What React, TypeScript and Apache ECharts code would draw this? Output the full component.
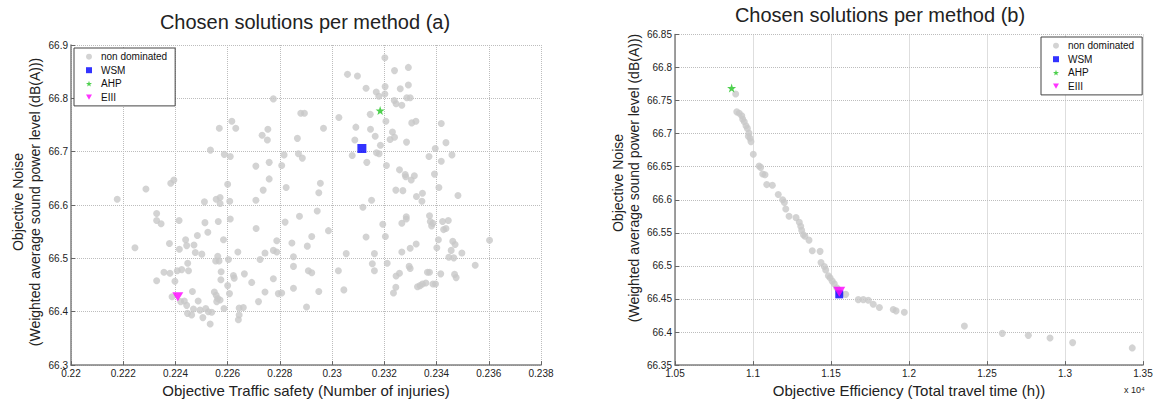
import React, { useEffect, useRef } from "react";
import * as echarts from "echarts";

const FONT = "'Liberation Sans', Arial, Helvetica, sans-serif";

// ---- (a) Traffic safety vs Noise ----
const leftNonDominated: [number, number][] = [
  [0.22177, 66.611], [0.22287, 66.630], [0.22328, 66.584], [0.22382, 66.641], [0.22394, 66.647],
  [0.22534, 66.703], [0.22511, 66.606], [0.22556, 66.611], [0.22571, 66.614], [0.22571, 66.603],
  [0.22568, 66.744], [0.22616, 66.757], [0.22631, 66.744], [0.22587, 66.695], [0.22610, 66.691],
  [0.22600, 66.639], [0.22608, 66.607], [0.22708, 66.609], [0.22708, 66.673], [0.22736, 66.628],
  [0.22732, 66.731], [0.22752, 66.722], [0.22754, 66.742], [0.22759, 66.680], [0.22759, 66.649],
  [0.22775, 66.799], [0.22807, 66.674], [0.22816, 66.694], [0.22824, 66.633], [0.22867, 66.725],
  [0.22871, 66.696],
  [0.23202, 66.876], [0.23059, 66.845], [0.23097, 66.842], [0.23239, 66.852], [0.23292, 66.858],
  [0.23130, 66.819], [0.23169, 66.812], [0.23179, 66.804], [0.23203, 66.822], [0.23202, 66.808],
  [0.23261, 66.818], [0.23292, 66.825], [0.23238, 66.796], [0.23245, 66.790], [0.23267, 66.787],
  [0.23286, 66.801], [0.23299, 66.801], [0.22880, 66.772], [0.22894, 66.772], [0.23026, 66.764],
  [0.23146, 66.770], [0.22967, 66.744], [0.23091, 66.746], [0.23147, 66.742], [0.23206, 66.757],
  [0.23305, 66.754], [0.23321, 66.757], [0.23418, 66.753], [0.23087, 66.722], [0.23165, 66.729],
  [0.23231, 66.737], [0.23222, 66.723], [0.23239, 66.727], [0.23285, 66.718], [0.23436, 66.717],
  [0.23185, 66.712], [0.23077, 66.693], [0.23133, 66.680], [0.23170, 66.698], [0.23180, 66.696],
  [0.22886, 66.688], [0.23395, 66.706], [0.23371, 66.691], [0.23459, 66.694], [0.23418, 66.682],
  [0.23208, 66.674], [0.23258, 66.666], [0.23280, 66.657], [0.23282, 66.653], [0.23303, 66.647],
  [0.23315, 66.655], [0.23392, 66.658], [0.22955, 66.641], [0.22949, 66.623], [0.23409, 66.633],
  [0.23244, 66.628], [0.23271, 66.627], [0.23346, 66.622], [0.23323, 66.616], [0.23344, 66.607],
  [0.23482, 66.618], [0.23151, 66.609], [0.23118, 66.596], [0.22943, 66.589], [0.22875, 66.579],
  [0.23373, 66.580], [0.23284, 66.578],
  [0.22986, 66.552], [0.22922, 66.541], [0.22846, 66.529], [0.22905, 66.523], [0.22852, 66.503],
  [0.22852, 66.485], [0.22909, 66.477], [0.22922, 66.473], [0.22949, 66.438], [0.22902, 66.409],
  [0.23024, 66.477], [0.23054, 66.509], [0.23045, 66.441], [0.23130, 66.540], [0.23162, 66.509],
  [0.23154, 66.490], [0.23162, 66.477], [0.23194, 66.564], [0.23204, 66.541], [0.23211, 66.491],
  [0.23267, 66.566], [0.23284, 66.574], [0.23267, 66.512], [0.23299, 66.519], [0.23322, 66.527],
  [0.23295, 66.485], [0.23299, 66.481], [0.23245, 66.467], [0.23258, 66.472], [0.23244, 66.446],
  [0.23235, 66.435], [0.23376, 66.569], [0.23381, 66.561], [0.23386, 66.566], [0.23423, 66.569],
  [0.23445, 66.571], [0.23427, 66.554], [0.23436, 66.556], [0.23407, 66.535], [0.23401, 66.520],
  [0.23462, 66.532], [0.23471, 66.526], [0.23456, 66.515], [0.23497, 66.510], [0.23447, 66.502],
  [0.23466, 66.501], [0.23365, 66.474], [0.23373, 66.474], [0.23416, 66.471], [0.23469, 66.470],
  [0.23475, 66.464], [0.23359, 66.454], [0.23346, 66.452], [0.23327, 66.447], [0.23337, 66.449],
  [0.23386, 66.452], [0.23396, 66.452], [0.23548, 66.487], [0.23603, 66.534],
  [0.22328, 66.571], [0.22345, 66.565], [0.22414, 66.571], [0.22245, 66.520], [0.22513, 66.567],
  [0.22524, 66.549], [0.22564, 66.569], [0.22610, 66.574], [0.22584, 66.535], [0.22709, 66.556],
  [0.22377, 66.528], [0.22415, 66.517], [0.22439, 66.535], [0.22443, 66.524], [0.22471, 66.525],
  [0.22484, 66.543], [0.22501, 66.508], [0.22476, 66.511], [0.22562, 66.504], [0.22567, 66.495],
  [0.22554, 66.495], [0.22603, 66.498], [0.22639, 66.512], [0.22743, 66.510], [0.22775, 66.515],
  [0.22788, 66.512], [0.22788, 66.533], [0.22820, 66.568], [0.22724, 66.498], [0.22447, 66.491],
  [0.22450, 66.477], [0.22356, 66.474], [0.22379, 66.472], [0.22407, 66.477], [0.22424, 66.479],
  [0.22398, 66.457], [0.22328, 66.458], [0.22575, 66.475], [0.22574, 66.460], [0.22622, 66.468],
  [0.22625, 66.463], [0.22664, 66.471], [0.22692, 66.455], [0.22775, 66.462], [0.22600, 66.449],
  [0.22607, 66.434], [0.22549, 66.437], [0.22556, 66.431], [0.22562, 66.425], [0.22571, 66.422],
  [0.22558, 66.419], [0.22465, 66.438], [0.22487, 66.420], [0.22434, 66.420], [0.22443, 66.412],
  [0.22387, 66.428], [0.22420, 66.419], [0.22446, 66.397], [0.22462, 66.394], [0.22469, 66.405],
  [0.22494, 66.403], [0.22516, 66.406], [0.22505, 66.389], [0.22526, 66.400], [0.22539, 66.399],
  [0.22533, 66.377], [0.22586, 66.406], [0.22644, 66.407], [0.22644, 66.394], [0.22641, 66.385],
  [0.22660, 66.408], [0.22718, 66.419], [0.22743, 66.437], [0.22794, 66.434], [0.22807, 66.435],
  [0.22852, 66.444],
];
const leftWSM: [number, number][] = [[0.23114, 66.706]];
const leftAHP: [number, number][] = [[0.23184, 66.777]];
const leftEIII: [number, number][] = [[0.22409, 66.428]];

// ---- (b) Efficiency (x 10^4 h) vs Noise ----
const rightNonDominated: [number, number][] = [
  [1.0889, 66.760], [1.0896, 66.733], [1.0912, 66.731], [1.0928, 66.727], [1.0934, 66.722],
  [1.0944, 66.718], [1.0955, 66.712], [1.0964, 66.708], [1.0974, 66.701], [1.0970, 66.696],
  [1.0981, 66.693], [1.0987, 66.688], [1.1002, 66.669], [1.1039, 66.651], [1.1049, 66.649],
  [1.1062, 66.639], [1.1077, 66.638], [1.1088, 66.623], [1.1124, 66.622], [1.1162, 66.608],
  [1.1190, 66.600], [1.1201, 66.596], [1.1210, 66.586], [1.1231, 66.575], [1.1276, 66.573],
  [1.1297, 66.566], [1.1306, 66.560], [1.1312, 66.554], [1.1323, 66.547], [1.1333, 66.545],
  [1.1359, 66.539], [1.1380, 66.523], [1.1430, 66.522], [1.1436, 66.505], [1.1457, 66.499],
  [1.1466, 66.494], [1.1483, 66.485], [1.1494, 66.482], [1.1508, 66.477], [1.1521, 66.473],
  [1.1537, 66.467], [1.1547, 66.464], [1.1553, 66.459], [1.1594, 66.457], [1.1675, 66.449],
  [1.1707, 66.449], [1.1739, 66.448], [1.1771, 66.442], [1.1810, 66.437], [1.1899, 66.434],
  [1.1917, 66.432], [1.1970, 66.430], [1.2355, 66.409], [1.2598, 66.398], [1.2765, 66.395],
  [1.2904, 66.391], [1.3049, 66.384], [1.3431, 66.376],
];
const rightWSM: [number, number][] = [[1.1553, 66.457]];
const rightAHP: [number, number][] = [[1.0863, 66.769]];
const rightEIII: [number, number][] = [[1.1553, 66.461]];

// axis ranges / tick steps
const leftX = { min: 0.22, max: 0.238, interval: 0.002 };
const leftY = { min: 66.3, max: 66.9, interval: 0.1 };
const rightX = { min: 1.05, max: 1.35, interval: 0.05 };
const rightY = { min: 66.35, max: 66.85, interval: 0.05 };

const legendNames = ["non dominated", "WSM", "AHP", "EIII"];
const titles = ["Chosen solutions per method (a)", "Chosen solutions per method (b)"];
const xNames = ["Objective Traffic safety (Number of injuries)", "Objective Efficiency (Total travel time (h))"];
const yNameLines = ["Objective Noise", "(Weighted average sound power level (dB(A)))"];

const GRAY = "#c8c8c8";
const BLUE = "#0000ff";
const GREEN = "#22c422";
const MAGENTA = "#ff00ff";
const STAR =
  "path://M0,-10 L2.35,-3.24 L9.51,-3.09 L3.8,1.24 L5.88,8.09 L0,4 L-5.88,8.09 L-3.8,1.24 L-9.51,-3.09 L-2.35,-3.24 Z";
const TRI_DOWN = "path://M0,0 L10,0 L5,8.66 Z";

function axisCommon(r: { min: number; max: number; interval: number }) {
  return {
    type: "value" as const,
    min: r.min,
    max: r.max,
    interval: r.interval,
    axisLine: { show: true, onZero: false, lineStyle: { color: "#808080", width: 1.5 } },
    axisTick: { show: true, inside: true, length: 4, lineStyle: { color: "#666" } },
    axisLabel: { color: "#222", fontSize: 10, fontFamily: FONT, margin: 3 },
    splitLine: { show: true, lineStyle: { color: "#bdbdbd", type: "dotted" as const, width: 1 } },
  };
}

function legendFor(left: number, top: number) {
  return {
    orient: "vertical" as const,
    left,
    top,
    data: [
      { name: legendNames[0], icon: "circle" },
      { name: legendNames[1], icon: "rect" },
      { name: legendNames[2], icon: STAR },
      { name: legendNames[3], icon: TRI_DOWN },
    ],
    itemWidth: 6,
    itemHeight: 6,
    itemGap: 1.5,
    padding: [2.7, 8, 2.7, 12],
    backgroundColor: "#fff",
    borderColor: "#444",
    borderWidth: 1,
    textStyle: { fontSize: 10, fontFamily: FONT, color: "#111", lineHeight: 12, padding: [0, 0, 0, 4] },
    selectedMode: false,
  };
}

function seriesFor(idx: number, nd: any, wsm: any, ahp: any, eiii: any, big: number, tri: number[]) {
  return [
    { name: "non dominated", type: "scatter", xAxisIndex: idx, yAxisIndex: idx, data: nd, symbol: "circle", symbolSize: 7, itemStyle: { color: GRAY }, z: 2, silent: true },
    { name: "WSM", type: "scatter", xAxisIndex: idx, yAxisIndex: idx, data: wsm, symbol: "rect", symbolSize: big, itemStyle: { color: BLUE }, z: 3, silent: true },
    { name: "AHP", type: "scatter", xAxisIndex: idx, yAxisIndex: idx, data: ahp, symbol: STAR, symbolSize: 9, itemStyle: { color: GREEN }, z: 4, silent: true },
    { name: "EIII", type: "scatter", xAxisIndex: idx, yAxisIndex: idx, data: eiii, symbol: TRI_DOWN, symbolSize: tri, itemStyle: { color: MAGENTA }, z: 5, silent: true },
  ];
}

function txt(x: number, y: number, text: string, size: number, rot = 0) {
  return {
    type: "text" as const,
    x,
    y,
    rotation: rot,
    silent: true,
    style: { text, fill: "#222", font: `${size}px ${FONT}`, align: "center", verticalAlign: "middle" },
  };
}

export default function App() {
  const ref = useRef<HTMLDivElement>(null);
  useEffect(() => {
    document.body.style.margin = "0";
    if (!ref.current) return;
    const chart = echarts.init(ref.current, undefined, { renderer: "svg" });
    const R = Math.PI / 2;
    chart.setOption({
      animation: false,
      backgroundColor: "#fff",
      textStyle: { fontFamily: FONT },
      grid: [
        { left: 71, top: 45, width: 470, height: 326 },
        { left: 675, top: 34.5, width: 468, height: 335.5 },
      ],
      xAxis: [
        { ...axisCommon(leftX), gridIndex: 0, name: xNames[0], nameLocation: "middle", nameGap: 15, nameTextStyle: { fontSize: 15, color: "#222", fontFamily: FONT } },
        { ...axisCommon(rightX), gridIndex: 1, name: xNames[1], nameLocation: "middle", nameGap: 15, nameTextStyle: { fontSize: 15, color: "#222", fontFamily: FONT } },
      ],
      yAxis: [
        { ...axisCommon(leftY), gridIndex: 0 },
        { ...axisCommon(rightY), gridIndex: 1 },
      ],
      legend: [legendFor(74, 48), legendFor(1041, 37)],
      series: [
        ...seriesFor(0, leftNonDominated, leftWSM, leftAHP, leftEIII, 9, [11, 9]),
        ...seriesFor(1, rightNonDominated, rightWSM, rightAHP, rightEIII, 8, [12, 10]),
      ],
      graphic: [
        txt(305, 22, titles[0], 20),
        txt(880, 15, titles[1], 20),
        txt(18, 202, yNameLines[0], 14, R),
        txt(35, 202, yNameLines[1], 14, R),
        txt(618, 183, yNameLines[0], 14, R),
        txt(634, 178, yNameLines[1], 14, R),
        { type: "text", x: 1124, y: 390, silent: true, style: { text: "x 10⁴", fill: "#222", font: `9px ${FONT}`, align: "left", verticalAlign: "middle" } },
      ],
    });
    return () => chart.dispose();
  }, []);
  return <div ref={ref} style={{ width: 1157, height: 403 }} />;
}
